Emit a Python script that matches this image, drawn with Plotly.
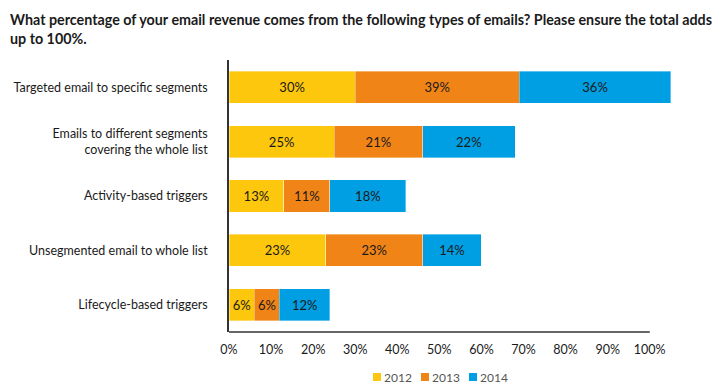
import plotly.graph_objects as go

categories = [
    "Targeted email to specific segments",
    "Emails to different segments<br>covering the whole list",
    "Activity-based triggers",
    "Unsegmented email to whole list",
    "Lifecycle-based triggers",
]
years = ["2012", "2013", "2014"]
values_2012 = [30, 25, 13, 23, 6]
values_2013 = [39, 21, 11, 23, 6]
values_2014 = [36, 22, 18, 14, 12]
tick_values = [0, 10, 20, 30, 40, 50, 60, 70, 80, 90, 100]
tick_labels = [f"{v}%" for v in tick_values]

colors = ["#FDC70D", "#F08417", "#009FE3"]
series = [values_2012, values_2013, values_2014]

W, H = 724, 392
L, R, T, B = 229, 49, 60, 60
PW, PH = W - L - R, H - T - B


def px_x(p):
    return (p - L) / PW


def px_y(p):
    return (H - B - p) / PH


fig = go.Figure()
for name, vals, col in zip(years, series, colors):
    fig.add_trace(go.Bar(
        y=categories, x=vals, name=name, orientation="h",
        marker=dict(color=col, line=dict(color="rgba(255,255,255,0.6)", width=0.6)),
        text=[f"{v}%" for v in vals], textposition="inside",
        insidetextanchor="middle", constraintext="none",
        textfont=dict(family="Lato", size=13, color="#1a1a1a"),
        width=0.59, cliponaxis=False, showlegend=False,
    ))

# custom compact legend
shapes = [dict(type="line", xref="x", yref="paper", x0=0, x1=100, y0=0, y1=0,
               line=dict(color="#333", width=1.5))]
annotations = []
legend_sq_left = [373, 421, 469]
for name, col, sx in zip(years, colors, legend_sq_left):
    shapes.append(dict(type="rect", xref="paper", yref="paper",
                       x0=px_x(sx), x1=px_x(sx + 8), y0=px_y(381), y1=px_y(373),
                       fillcolor=col, line=dict(width=0)))
    annotations.append(dict(xref="paper", yref="paper", x=px_x(sx + 9), y=px_y(377),
                            xanchor="left", yanchor="middle", text=name, showarrow=False,
                            font=dict(family="Lato", size=12, color="#555")))

fig.update_layout(
    barmode="stack",
    width=W, height=H,
    margin=dict(l=L, r=R, t=T, b=B, autoexpand=False),
    paper_bgcolor="white", plot_bgcolor="white",
    font=dict(family="Lato", size=12.5, color="#1a1a1a"),
    showlegend=False,
    title=dict(
        text="<b>What percentage of your email revenue comes from the following types of emails? Please ensure the total adds<br>up to 100%.</b>",
        x=10 / W, xanchor="left", xref="container", y=0.935, yanchor="middle",
        font=dict(family="Lato", size=14.3, color="#1a1a1a"),
    ),
    xaxis=dict(
        range=[0, 106], tickvals=tick_values, ticktext=tick_labels,
        showgrid=False, zeroline=False, showline=False, automargin=False,
        ticks="outside", ticklen=6, tickcolor="rgba(0,0,0,0)",
        tickfont=dict(family="Lato", size=12.5, color="#1a1a1a"),
    ),
    yaxis=dict(
        categoryorder="array", categoryarray=categories, autorange="reversed",
        showgrid=False, zeroline=False, showline=True, linecolor="#333", linewidth=1.5,
        ticks="outside", ticklen=17, tickcolor="rgba(0,0,0,0)", automargin=False,
        tickfont=dict(family="Lato", size=12.5, color="#1a1a1a"),
    ),
    shapes=shapes,
    annotations=annotations,
)

fig.write_html("out.html", config={"displayModeBar": False},
               post_script="document.body.style.margin='0';document.body.style.overflow='hidden';")
